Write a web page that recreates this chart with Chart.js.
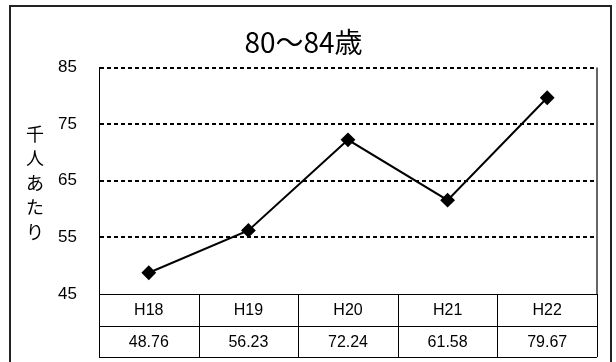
<!DOCTYPE html>
<html>
<head>
<meta charset="utf-8">
<script src="https://cdn.jsdelivr.net/npm/chart.js@4/dist/chart.umd.min.js"></script>
<style>
  body { margin: 0; background: #fff; }
  #wrap { width: 616px; height: 362px; }
</style>
</head>
<body>
<div id="wrap"><canvas id="myChart"></canvas></div>
<script>
const titleText = '80〜84歳';
const axisTitle = ['千', '人', 'あ', 'た', 'り'];
const categories = ['H18', 'H19', 'H20', 'H21', 'H22'];
const values = [48.76, 56.23, 72.24, 61.58, 79.67];
const yTicks = [45, 55, 65, 75, 85];

const FONT = "'Liberation Sans', Arial, sans-serif";
const JP_FONT = "'Noto Sans CJK JP', sans-serif";

// outer frame, plot frame, vertical axis title and the data table below the plot
const extras = {
    id: 'extras',
    afterDraw(chart) {
        const ctx = chart.ctx;
        const area = chart.chartArea;
        const x = chart.scales.x;
        ctx.save();

        // outer box
        ctx.strokeStyle = '#222';
        ctx.lineWidth = 2;
        ctx.beginPath();
        ctx.moveTo(10, 362);
        ctx.lineTo(10, 6);
        ctx.lineTo(611, 6);
        ctx.lineTo(611, 362);
        ctx.stroke();

        // right edge of plot
        ctx.strokeStyle = '#666';
        ctx.lineWidth = 2;
        ctx.beginPath();
        ctx.moveTo(area.right, area.top);
        ctx.lineTo(area.right, area.bottom);
        ctx.stroke();

        // table
        const rowH = 32;
        const top = area.bottom;
        const bottom = top + rowH * 2 - 1;
        ctx.strokeStyle = '#000';
        ctx.lineWidth = 1;
        ctx.beginPath();
        ctx.moveTo(area.left, top + 0.5);
        ctx.lineTo(area.right, top + 0.5);
        ctx.moveTo(area.left, top + rowH + 0.5);
        ctx.lineTo(area.right, top + rowH + 0.5);
        ctx.moveTo(area.left, bottom + 0.5);
        ctx.lineTo(area.right, bottom + 0.5);
        const bounds = [area.left];
        for (let i = 0; i < categories.length - 1; i++) {
            bounds.push((x.getPixelForValue(i) + x.getPixelForValue(i + 1)) / 2);
        }
        bounds.push(area.right);
        bounds.forEach(b => {
            const bx = Math.round(b) + 0.5;
            ctx.moveTo(bx, top);
            ctx.lineTo(bx, bottom);
        });
        ctx.stroke();

        ctx.fillStyle = '#000';
        ctx.font = '16px ' + FONT;
        ctx.textAlign = 'center';
        ctx.textBaseline = 'middle';
        categories.forEach((c, i) => {
            const cx = x.getPixelForValue(i);
            ctx.fillText(c, cx, top + rowH / 2 + 1);
            ctx.fillText(values[i].toFixed(2), cx, top + rowH * 1.5 + 1);
        });

        // vertical axis title, one character per line
        ctx.font = '18px ' + JP_FONT;
        axisTitle.forEach((ch, i) => {
            ctx.fillText(ch, 35, 134 + i * 24.5);
        });
        ctx.restore();
    }
};

const data = {
    labels: categories,
    datasets: [{
        data: values,
        borderColor: '#000',
        backgroundColor: '#000',
        borderWidth: 2,
        pointStyle: 'rectRot',
        pointRadius: 6,
        pointHoverRadius: 6,
        tension: 0,
        clip: false
    }]
};

const config = {
    type: 'line',
    data: data,
    options: {
        responsive: true,
        maintainAspectRatio: false,
        animation: false,
        layout: { padding: { left: 10, right: 19, top: 0, bottom: 68 } },
        plugins: {
            legend: { display: false },
            tooltip: { enabled: false },
            title: {
                display: true,
                text: titleText,
                color: '#000',
                font: { family: JP_FONT, size: 28, weight: 'normal', lineHeight: 1.2 },
                padding: { top: 26, bottom: 8 }
            }
        },
        scales: {
            x: {
                type: 'category',
                offset: true,
                display: false
            },
            y: {
                min: 45,
                max: 85,
                afterFit: scale => { scale.width = 89; },
                afterBuildTicks: scale => { scale.ticks = yTicks.map(v => ({ value: v })); },
                ticks: {
                    color: '#000',
                    padding: 22,
                    font: { family: FONT, size: 17 }
                },
                grid: {
                    drawTicks: false,
                    lineWidth: 2,
                    color: c => c.tick && c.tick.value === 45 ? 'rgba(0,0,0,0)' : '#000'
                },
                border: { display: true, color: '#000', width: 1, dash: [4, 3] }
            }
        }
    },
    plugins: [extras]
};

var myChart = new Chart(document.getElementById('myChart'), config);
</script>
</body>
</html>
